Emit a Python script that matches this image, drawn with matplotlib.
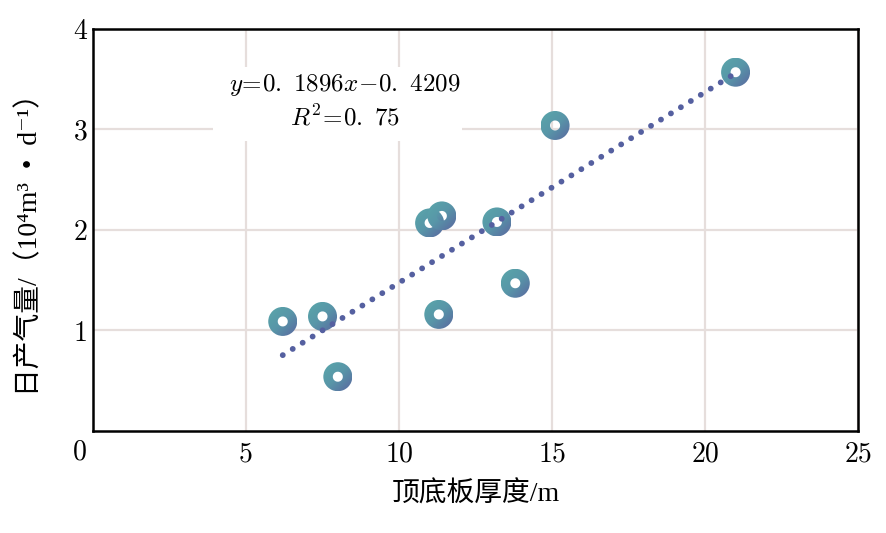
import matplotlib
matplotlib.use('Agg')
import matplotlib.pyplot as plt
import numpy as np
from matplotlib.patches import Wedge, Rectangle
from matplotlib.transforms import ScaledTranslation
from matplotlib.colors import LinearSegmentedColormap
from matplotlib.image import AxesImage

# ---- data ----
thickness = [6.2, 7.5, 8.0, 11.0, 11.4, 11.3, 13.2, 13.8, 15.1, 21.0]
gas = [1.09, 1.14, 0.54, 2.07, 2.14, 1.16, 2.08, 1.47, 3.04, 3.57]
slope = 0.1896
intercept = -0.4209
r2 = 0.75
xticks = [5, 10, 15, 20, 25]
yticks = [1, 2, 3, 4]
xlabel = '顶底板厚度/m'
ylabel = '日产气量/（10⁴m³\u2002•\u2002d⁻¹）'
eq_text = r'$y\!=\!0.\ 1896x\!-\!0.\ 4209$'
r2_text = r'$R^2\!=\!0.\ 75$'

plt.rcParams['mathtext.fontset'] = 'cm'
plt.rcParams['axes.unicode_minus'] = False
fam = ['cmr10', 'Noto Sans CJK SC', 'DejaVu Serif']
lab_fam = ['Liberation Serif', 'DejaVu Serif', 'Noto Sans CJK SC']

fig = plt.figure(figsize=(8.86, 5.33), dpi=100)
ax = fig.add_axes([0.105, 0.1914, 0.8634, 0.7542])

ax.set_axisbelow(True)
ax.grid(True, color='#e6dedc', lw=1.6)
for s in ax.spines.values():
    s.set_color('black')
    s.set_linewidth(1.8)

ax.set_xticks(xticks)
ax.set_yticks(yticks)
ax.set_xticklabels([str(v) for v in xticks], fontfamily=fam, fontsize=20)
ax.set_yticklabels([str(v) for v in yticks], fontfamily=fam, fontsize=20)
ax.tick_params(axis='both', length=0)
ax.tick_params(axis='x', pad=7)
ax.tick_params(axis='y', pad=4)

# origin label
ax.annotate('0', xy=(0, 0), xycoords='data', xytext=(-9.4, -15.1),
            textcoords='offset points', ha='center', va='center',
            fontfamily=fam, fontsize=20, annotation_clip=False)

ax.set_xlabel(xlabel, fontfamily=lab_fam, fontsize=20, va='center', fontweight='light')
ax.xaxis.set_label_coords(0.5007, -0.159)
ax.set_ylabel(ylabel, fontfamily=lab_fam, fontsize=20, va='center', fontweight='light')
ax.yaxis.set_label_coords(-0.0824, 0.480)

# white box behind the equation
ax.add_patch(Rectangle((0.157, 0.7214), 0.3255, 0.184, transform=ax.transAxes,
                       facecolor='white', edgecolor='none', zorder=1))
ax.text(8.22, 3.44, eq_text, fontsize=18, ha='center', va='center', zorder=5)
ax.text(8.22, 3.12, r2_text, fontsize=18, ha='center', va='center', zorder=5)

# gradient ring markers
cmap = LinearSegmentedColormap.from_list('ring', ['#5aa6aa', '#5896a8', '#5a68a0'])
n = 64
ii, jj = np.mgrid[0:n, 0:n]
grad = (ii + jj) / (2.0 * (n - 1))
R_out = 0.145
R_in = 0.05
for xv, yv in zip(thickness, gas):
    tr = fig.dpi_scale_trans + ScaledTranslation(xv, yv, ax.transData)
    im = AxesImage(ax, cmap=cmap, interpolation='bilinear',
                   extent=(-R_out, R_out, -R_out, R_out), origin='upper')
    im.set_data(grad)
    im.set_transform(tr)
    im.set_zorder(3)
    ring = Wedge((0, 0), R_out, 0, 360, width=R_out - R_in, transform=tr)
    im.set_clip_path(ring)
    ax.add_image(im)

# fitted line
xs = np.array([min(thickness), max(thickness)])
ys = slope * xs + intercept
ax.plot(xs, ys, color='#5560a0', lw=4.2, dashes=(0.01, 2.0),
        dash_capstyle='round', zorder=4)

ax.set_xlim(0, 25)
ax.set_ylim(0, 4)
ax.set_aspect('auto')

fig.savefig('out.png', dpi=100)
